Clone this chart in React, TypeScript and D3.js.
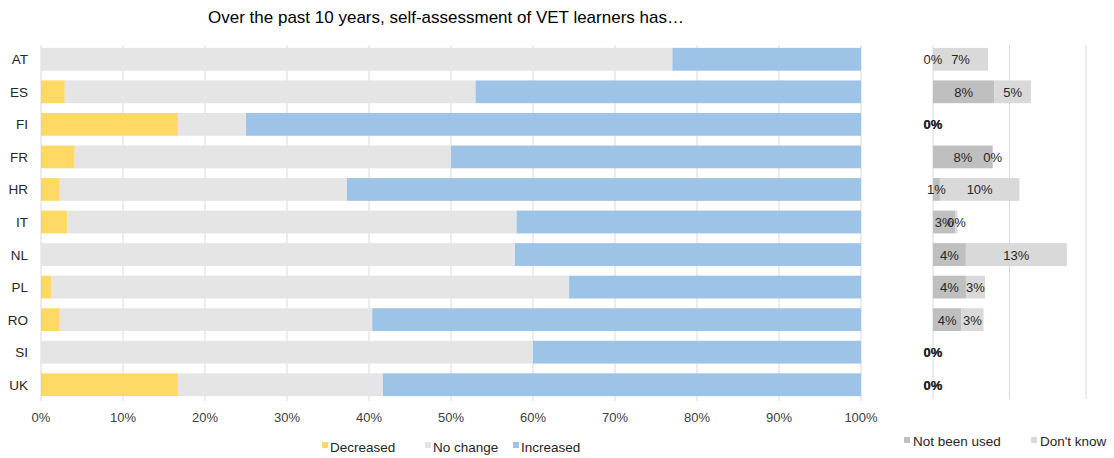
import React from "react";
import * as d3 from "d3";

const countries = ["AT", "ES", "FI", "FR", "HR", "IT", "NL", "PL", "RO", "SI", "UK"];
const decreased = [0, 2.9, 16.7, 4.1, 2.3, 3.2, 0, 1.3, 2.3, 0, 16.7];
const noChange = [77.0, 50.1, 8.3, 45.9, 35.0, 54.8, 57.8, 63.1, 38.1, 60.0, 25.0];
const increased = [23.0, 47.0, 75.0, 50.0, 62.7, 42.0, 42.2, 35.6, 59.6, 40.0, 58.3];
const notBeenUsed = [0, 8, 0, 7.8, 0.9, 2.9, 4.3, 4.3, 3.7, 0, 0];
const dontKnow = [7.2, 4.8, 0, 0, 10.4, 0.3, 13.2, 2.5, 2.9, 0, 0];
const notBeenUsedLabels = ["0%", "8%", "0%", "8%", "1%", "3%", "4%", "4%", "4%", "0%", "0%"];
const dontKnowLabels = ["7%", "5%", "0%", "0%", "10%", "0%", "13%", "3%", "3%", "0%", "0%"];
const mainTicks = [0, 10, 20, 30, 40, 50, 60, 70, 80, 90, 100];
const sideTicks = [0, 10, 20];
const title = "Over the past 10 years, self-assessment of VET learners has…";

const C_DEC = "#FFD966";
const C_NO = "#E5E5E5";
const C_INC = "#9DC3E6";
const C_NBU = "#BFBFBF";
const C_DK = "#D9D9D9";
const GRID = "#D9D9D9";
const FONT = "Liberation Sans, Arial, sans-serif";

export default function App() {
  const W = 1114, H = 458;
  const x = d3.scaleLinear().domain([0, 100]).range([41, 861]);
  const y = d3.scaleBand().domain(countries).range([43, 401]).paddingInner(0.3).paddingOuter(0.15);
  const xs = d3.scaleLinear().domain([0, 10]).range([933, 1009.5]);
  const bh = y.bandwidth();
  const gridTop = 45, gridBot = 401;

  const mainSeries = [
    { vals: decreased, color: C_DEC },
    { vals: noChange, color: C_NO },
    { vals: increased, color: C_INC },
  ];

  return (
    <svg width={W} height={H} style={{ position: "absolute", left: 0, top: 0, background: "#fff" }} fontFamily={FONT}>
      <text x={446} y={23} textAnchor="middle" fontSize={17} fill="#000">{title}</text>
      {mainTicks.map((t) => (
        <g key={"g" + t}>
          <line x1={x(t)} x2={x(t)} y1={gridTop} y2={gridBot} stroke={GRID} strokeWidth={1} />
          <text x={x(t)} y={422} textAnchor="middle" fontSize={13} fill="#404040">{t + "%"}</text>
        </g>
      ))}
      {sideTicks.map((t) => (
        <line key={"s" + t} x1={xs(t)} x2={xs(t)} y1={gridTop} y2={gridBot - 2} stroke={GRID} strokeWidth={1} />
      ))}
      {countries.map((c, i) => {
        let acc = 0;
        const yy = y(c)!;
        return (
          <g key={c}>
            <text x={28} y={yy + bh / 2 + 5} textAnchor="end" fontSize={13.5} fill="#262626">{c}</text>
            {mainSeries.map((s, k) => {
              const x0 = acc;
              acc += s.vals[i];
              return <rect key={k} x={x(x0)} y={yy} width={x(acc) - x(x0)} height={bh} fill={s.color} />;
            })}
          </g>
        );
      })}
      {countries.map((c, i) => {
        const yy = y(c)!;
        const a = notBeenUsed[i];
        const b = dontKnow[i];
        const ty = yy + bh / 2 + 5;
        const bold = a === 0 && b === 0;
        return (
          <g key={"r" + c}>
            <rect x={xs(0)} y={yy} width={xs(a) - xs(0)} height={bh} fill={C_NBU} />
            <rect x={xs(a)} y={yy} width={xs(a + b) - xs(a)} height={bh} fill={C_DK} />
            <text x={(xs(0) + xs(a)) / 2} y={ty} textAnchor="middle" fontSize={13} fontWeight={bold ? "bold" : "normal"} fill="#262626">{notBeenUsedLabels[i]}</text>
            <text x={(xs(a) + xs(a + b)) / 2} y={ty} textAnchor="middle" fontSize={13} fontWeight={bold ? "bold" : "normal"} fill="#262626">{dontKnowLabels[i]}</text>
          </g>
        );
      })}
      <g fontSize={13.5} fill="#262626">
        <rect x={322} y={442} width={6} height={6} fill={C_DEC} />
        <text x={330} y={452}>Decreased</text>
        <rect x={425} y={442} width={6} height={6} fill={C_NO} />
        <text x={433} y={452}>No change</text>
        <rect x={513} y={442} width={6} height={6} fill={C_INC} />
        <text x={521} y={452}>Increased</text>
        <rect x={904} y={437} width={6} height={6} fill={C_NBU} />
        <text x={913} y={446}>Not been used</text>
        <rect x={1031} y={437} width={6} height={6} fill={C_DK} />
        <text x={1040} y={446}>Don't know</text>
      </g>
    </svg>
  );
}
